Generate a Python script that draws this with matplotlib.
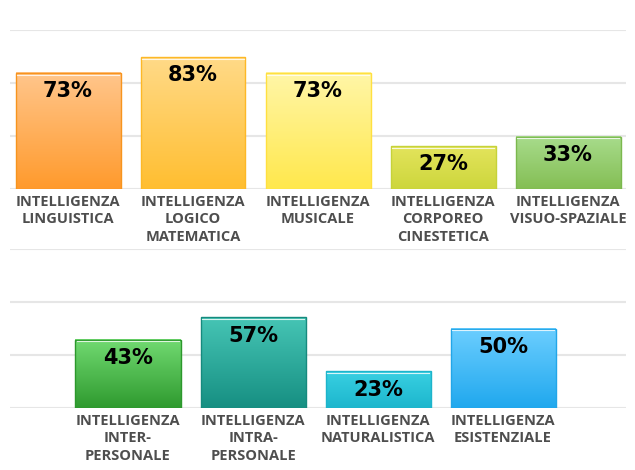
import numpy as np
import matplotlib
matplotlib.use("Agg")
import matplotlib.pyplot as plt
from matplotlib.colors import LinearSegmentedColormap
from matplotlib.patches import Rectangle

top_labels = ["INTELLIGENZA\nLINGUISTICA", "INTELLIGENZA\nLOGICO\nMATEMATICA",
              "INTELLIGENZA\nMUSICALE", "INTELLIGENZA\nCORPOREO\nCINESTETICA",
              "INTELLIGENZA\nVISUO-SPAZIALE"]
top_values = [73, 83, 73, 27, 33]
top_colors = [("#FFC68C", "#FF9A2C", "#F7941E"),
              ("#FFDA88", "#FFBE30", "#FDB827"),
              ("#FFF6A8", "#FFE84C", "#FFE040"),
              ("#E3E45C", "#CDD63C", "#C6D23A"),
              ("#A8DC8C", "#84BE54", "#7BB84E")]

bot_labels = ["INTELLIGENZA\nINTER-\nPERSONALE", "INTELLIGENZA\nINTRA-\nPERSONALE",
              "INTELLIGENZA\nNATURALISTICA", "INTELLIGENZA\nESISTENZIALE"]
bot_values = [43, 57, 23, 50]
bot_colors = [("#72DA72", "#2E9A2E", "#2C982C"),
              ("#46C5B5", "#168F82", "#168A7E"),
              ("#38D0E2", "#1DB6CD", "#1DB4CB"),
              ("#6CCEFF", "#20A8EE", "#22A6E8")]

W, H = 635, 470
fig = plt.figure(figsize=(W / 100, H / 100), dpi=100)

def make_ax(top_px, xlim):
    bottom_px = top_px + 159
    ax = fig.add_axes([10 / W, (H - bottom_px) / H, 616 / W, 159 / H])
    ax.set_xlim(*xlim)
    ax.set_ylim(0, 100)
    ax.set_yticks([0, 100 / 3, 200 / 3, 100])
    ax.set_xticks([])
    ax.tick_params(left=False, labelleft=False)
    ax.grid(axis="y", color="#e6e6e6", linewidth=1.5)
    ax.set_axisbelow(True)
    for s in ax.spines.values():
        s.set_visible(False)
    ax.patch.set_alpha(0)
    return ax

def draw(ax, labels, values, colors):
    w = 0.84
    for i, (lab, v, (c1, c2, ec)) in enumerate(zip(labels, values, colors)):
        cmap = LinearSegmentedColormap.from_list("g", [c2, c1])
        grad = np.linspace(0, 1, 256).reshape(-1, 1)
        ax.imshow(grad, cmap=cmap, extent=[i - w / 2, i + w / 2, 0, v],
                  origin="lower", aspect="auto", zorder=2, interpolation="bilinear")
        ax.add_patch(Rectangle((i - w / 2, 0), w, v, fill=False, edgecolor=ec,
                               linewidth=1.0, zorder=3))
        ax.plot([i - w / 2 + 0.01, i + w / 2 - 0.01], [v - 1.0, v - 1.0],
                color="white", linewidth=0.8, alpha=0.8, zorder=3)
        ax.annotate(f"{v}%", xy=(i, v), xytext=(0, -6), textcoords="offset points",
                    ha="center", va="top", fontsize=15, fontweight="bold",
                    color="black", family="DejaVu Sans", zorder=4)
        ax.annotate(lab, xy=(i, 0), xytext=(0, -4), textcoords="offset points",
                    ha="center", va="top", fontsize=10.5, fontweight="bold",
                    color="#4e4e4e", family="Open Sans", linespacing=1.32,
                    annotation_clip=False, zorder=4)

ax1 = make_ax(30, (-0.464, 4.464))
draw(ax1, top_labels, top_values, top_colors)
ax2 = make_ax(249, (-0.944, 3.984))
draw(ax2, bot_labels, bot_values, bot_colors)
ax1.set_xlim(-0.464, 4.464); ax1.set_ylim(0, 100)
ax2.set_xlim(-0.944, 3.984); ax2.set_ylim(0, 100)

fig.savefig("out.png", dpi=100, facecolor="white")
